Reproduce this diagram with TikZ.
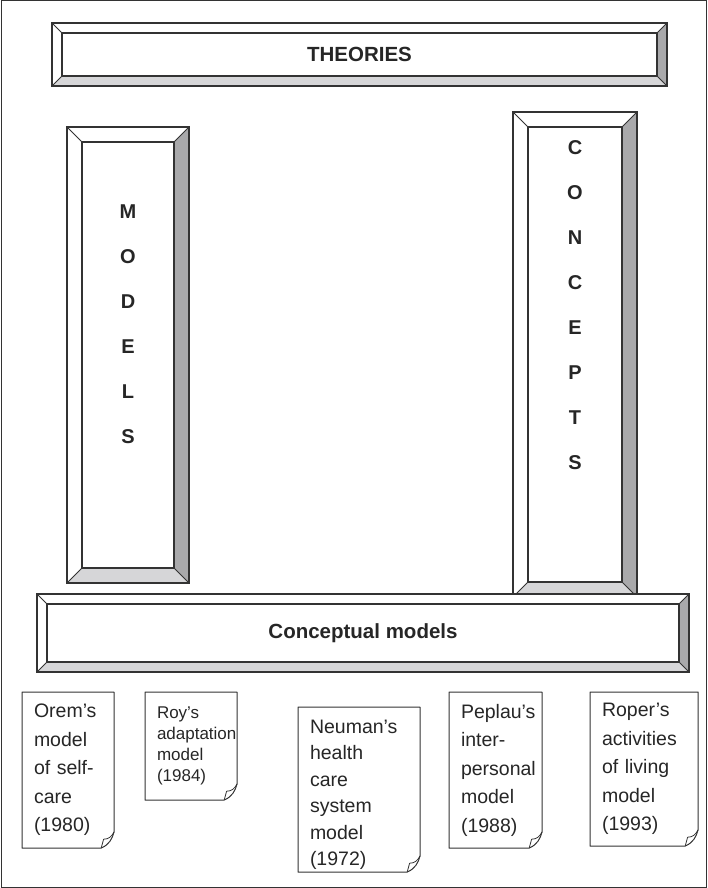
\documentclass[tikz,border=0pt]{standalone}
\usepackage{fontspec}
\setmainfont{Liberation Sans}
\usetikzlibrary{calc}
\definecolor{edge}{HTML}{333333}
\definecolor{bevelright}{HTML}{A9A9AB}
\definecolor{bevelbottom}{HTML}{D6D6D8}

% bevelled frame drawn round a named rectangular node: #1 node, #2 bevel width (pt)
\newcommand\bevelframe[2]{%
  \fill[bevelright] (#1.north east) -- (#1.south east) -- ($(#1.south east)+(-#2pt,#2pt)$) -- ($(#1.north east)+(-#2pt,-#2pt)$) -- cycle;
  \fill[bevelbottom] (#1.south west) -- (#1.south east) -- ($(#1.south east)+(-#2pt,#2pt)$) -- ($(#1.south west)+(#2pt,#2pt)$) -- cycle;
  \draw[edge, line width=1.2pt] ($(#1.south west)+(#2pt,#2pt)$) rectangle ($(#1.north east)+(-#2pt,-#2pt)$);
  \draw[edge, line width=0.8pt] (#1.north west) -- ++(#2pt,-#2pt) (#1.north east) -- ++(-#2pt,-#2pt)
        (#1.south west) -- ++(#2pt,#2pt) (#1.south east) -- ++(-#2pt,#2pt);
  \draw[edge, line width=1.2pt] (#1.south west) rectangle (#1.north east);
}
% page outline with a curled bottom-right corner round a named node: #1 node, #2 curl size (pt)
\newcommand\docpage[2]{%
  \draw[edge, line width=1pt, line join=round]
    ($(#1.south east)+(0,#2pt)$) -- (#1.north east) -- (#1.north west) -- (#1.south west)
    -- ($(#1.south east)+(-0.8*#2pt,0)$)
    .. controls ($(#1.south east)+(-0.3*#2pt,0.2*#2pt)$) and ($(#1.south east)+(-0.1*#2pt,0.6*#2pt)$) .. ($(#1.south east)+(0,#2pt)$);
  \draw[edge, line width=0.8pt, line join=round]
    ($(#1.south east)+(-0.8*#2pt,0)$) -- ($(#1.south east)+(-0.65*#2pt,0.55*#2pt)$)
    .. controls ($(#1.south east)+(-0.35*#2pt,0.55*#2pt)$) and ($(#1.south east)+(-0.15*#2pt,0.7*#2pt)$) .. ($(#1.south east)+(0,#2pt)$);
}

\begin{document}
\begin{tikzpicture}[x=1pt,y=-1pt,
  frame/.style={draw=edge, line width=1.2pt, inner sep=0pt, outer sep=0pt, fill=white, anchor=north west},
  boxlabel/.style={font=\bfseries\fontsize{20.5}{20.5}\selectfont, text=black!85},
  lettercol/.style={font=\bfseries\fontsize{20}{44.9}\selectfont, align=center, text=black!85, inner sep=0pt},
  doc/.style={inner xsep=12pt, inner ysep=0pt, outer sep=0pt, align=left,
              font=\fontsize{19.5}{28.5}\selectfont, text=black!85, anchor=north west},
]
% outer border
\draw[edge, line width=1pt] (1,1) rectangle (706,887);
\useasboundingbox (0,0) rectangle (707,888);

% bevelled boxes
\node[frame, minimum width=615pt, minimum height=63pt, boxlabel] (theories) at (52,23) {THEORIES};
\bevelframe{theories}{10}
\node[frame, minimum width=122pt, minimum height=456pt] (models) at (67,127) {};
\bevelframe{models}{15}
\node[lettercol] (modelsletters) at (128,324) {M\\O\\D\\E\\L\\S};
\node[frame, minimum width=124pt, minimum height=485pt] (concepts) at (513,112) {};
\bevelframe{concepts}{15}
\node[lettercol] (conceptsletters) at (575,305) {C\\O\\N\\C\\E\\P\\T\\S};
\node[frame, minimum width=652pt, minimum height=78pt, boxlabel] (conceptual) at (37,594) {Conceptual models};
\bevelframe{conceptual}{10}

% conceptual model pages
\node[doc, text width=68pt, minimum height=156pt] (orem) at (22,692) {Orem’s\\model\\of self-\\care\\(1980)};
\docpage{orem}{16}
\node[doc, text width=68pt, minimum height=108pt, font=\fontsize{17}{21}\selectfont] (roy) at (145,692) {Roy’s\\adaptation\\model\\(1984)};
\docpage{roy}{16}
\node[doc, text width=98pt, minimum height=165pt, font=\fontsize{19.5}{26.5}\selectfont] (neuman) at (298,707) {\rule{0pt}{24pt}Neuman’s\\health\\care\\system\\model\\(1972)};
\docpage{neuman}{16}
\node[doc, text width=69pt, minimum height=156pt] (peplau) at (449,692) {Peplau’s\\inter-\\personal\\model\\(1988)};
\docpage{peplau}{16}
\node[doc, text width=84pt, minimum height=154pt] (roper) at (590,692) {Roper’s\\activities\\of living\\model\\(1993)};
\docpage{roper}{16}
\end{tikzpicture}
\end{document}
